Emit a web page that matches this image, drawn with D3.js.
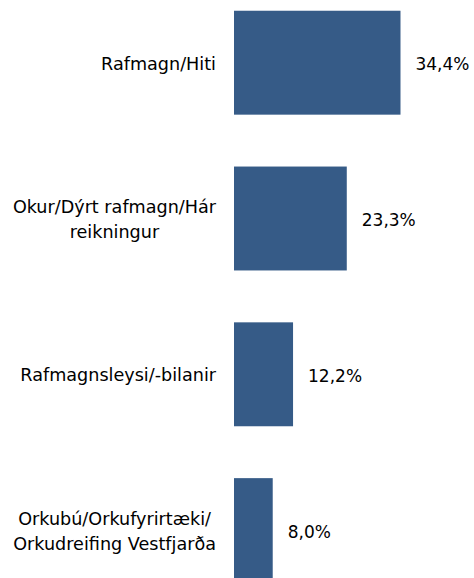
<!DOCTYPE html>
<html>
<head>
<meta charset="utf-8">
<script src="https://cdn.jsdelivr.net/npm/d3@7"></script>
<style>
    html, body { margin: 0; padding: 0; background: #fff; }
    svg { display: block; }
    text { font-family: "DejaVu Sans", Verdana, sans-serif; fill: #000; }
</style>
</head>
<body>
<div id="contents"></div>
<script>
var categories = [
    'Rafmagn/Hiti',
    'Okur/Dýrt rafmagn/Hár reikningur',
    'Rafmagnsleysi/-bilanir',
    'Orkubú/Orkufyrirtæki/ Orkudreifing Vestfjarða'
];
var categoryLines = [
    ['Rafmagn/Hiti'],
    ['Okur/Dýrt rafmagn/Hár', 'reikningur'],
    ['Rafmagnsleysi/-bilanir'],
    ['Orkubú/Orkufyrirtæki/', 'Orkudreifing Vestfjarða']
];
var values      = [34.4, 23.3, 12.2, 8.0];
var valueLabels = ['34,4%', '23,3%', '12,2%', '8,0%'];

window.onload = function(){
    'use strict';
    var width       = 474;
    var height      = 578;
    var BAR_COLOR   = '#365b87';
    var VALUE_SIZE  = 17;
    var LABEL_SIZE  = 17.6;
    var LINE_HEIGHT = 25;
    var LABEL_RIGHT = 216;
    var VALUE_GAP   = 15;

    var svg = d3.select('#contents')
        .append('svg')
        .attr('width', width)
        .attr('height', height);

    var x = d3.scaleLinear()
        .domain([0, 40])
        .range([234, 427.6]);

    var y = d3.scaleBand()
        .domain(categories)
        .range([-15.2, 608])
        .paddingInner(0.333)
        .paddingOuter(0.1665);

    function center(i) {
        return y(categories[i]) + y.bandwidth() / 2;
    }

    // bars
    svg.append('g')
        .selectAll('rect')
        .data(values)
        .enter()
        .append('rect')
        .attr('x', x(0))
        .attr('y', function(d, i){ return y(categories[i]); })
        .attr('width', function(d){ return x(d) - x(0); })
        .attr('height', y.bandwidth())
        .attr('fill', BAR_COLOR);

    // value labels
    svg.append('g')
        .selectAll('text')
        .data(values)
        .enter()
        .append('text')
        .attr('font-size', VALUE_SIZE)
        .attr('x', function(d){ return x(d) + VALUE_GAP; })
        .attr('y', function(d, i){ return center(i) + 7.5; })
        .text(function(d, i){ return valueLabels[i]; });

    // category labels, lines centred in a right-aligned block
    var labels = svg.append('g');
    categoryLines.forEach(function(lines, i) {
        var n = lines.length;
        var texts = labels.append('g')
            .selectAll('text')
            .data(lines)
            .enter()
            .append('text')
            .attr('font-size', LABEL_SIZE)
            .attr('y', function(d, j){
                return center(i) + 7 + (j - (n - 1) / 2) * LINE_HEIGHT;
            })
            .text(function(d){ return d; });

        var widths = [];
        texts.each(function(){ widths.push(this.getComputedTextLength()); });
        var mid = LABEL_RIGHT - d3.max(widths) / 2;
        texts.attr('x', function(d, j){ return mid - widths[j] / 2; });
    });
};
</script>
</body>
</html>
